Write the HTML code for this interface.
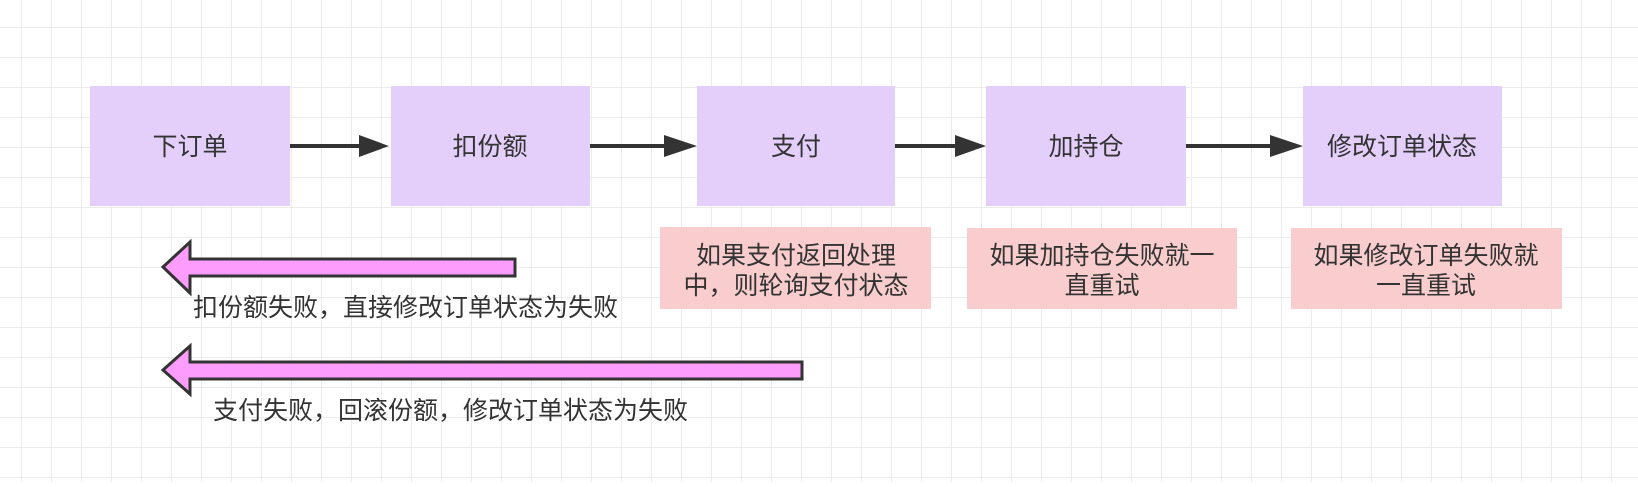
<!DOCTYPE html>
<html><head><meta charset="utf-8"><style>
html,body{margin:0;padding:0;background:#fff}
svg text{font-family:"Liberation Sans","Noto Sans CJK SC",sans-serif;fill:#333;font-size:25px}
</style></head><body>
<svg width="1638" height="482" viewBox="0 0 1638 482" xmlns="http://www.w3.org/2000/svg">
<defs>
<pattern id="g" x="21" y="27" width="30" height="30" patternUnits="userSpaceOnUse">
<path d="M0 0H30M0 0V30" stroke="#ececec" stroke-width="2" fill="none"/>
</pattern>
</defs>
<rect width="1638" height="482" fill="#fff"/>
<rect width="1638" height="482" fill="url(#g)"/>

<g fill="#e4cffb">
<rect x="90" y="86" width="200" height="120"/>
<rect x="391" y="86" width="199" height="120"/>
<rect x="697" y="86" width="198" height="120"/>
<rect x="986" y="86" width="200" height="120"/>
<rect x="1303" y="86" width="199" height="120"/>
</g>
<g text-anchor="middle">
<text x="190" y="155">下订单</text>
<text x="490" y="155">扣份额</text>
<text x="796" y="155">支付</text>
<text x="1086" y="155">加持仓</text>
<text x="1402" y="155">修改订单状态</text>
</g>

<g stroke="#333" stroke-width="4">
<line x1="290" y1="146" x2="362" y2="146"/>
<line x1="590" y1="146" x2="667" y2="146"/>
<line x1="895" y1="146" x2="958" y2="146"/>
<line x1="1186" y1="146" x2="1273" y2="146"/>
</g>
<g fill="#333">
<polygon points="359,135 389,146 359,157"/>
<polygon points="664,135 697,146 664,157"/>
<polygon points="955,135 986,146 955,157"/>
<polygon points="1270,135 1303,146 1270,157"/>
</g>

<g fill="#f9cdcd">
<rect x="660" y="227" width="271" height="82"/>
<rect x="967" y="228" width="270" height="81"/>
<rect x="1291" y="228" width="271" height="81"/>
</g>
<g text-anchor="middle" font-size="25">
<text x="796" y="264">如果支付返回处理</text>
<text x="796" y="294">中，则轮询支付状态</text>
<text x="1102" y="264">如果加持仓失败就一</text>
<text x="1102" y="294">直重试</text>
<text x="1426" y="264">如果修改订单失败就</text>
<text x="1426" y="294">一直重试</text>
</g>

<g fill="#fc9cfc" stroke="#333" stroke-width="3" stroke-linejoin="miter">
<polygon points="163,267 190,242 190,259 515,259 515,276 190,276 190,293"/>
<polygon points="163,370 190,346 190,362 802,362 802,379 190,379 190,394"/>
</g>
<text x="193" y="316">扣份额失败，直接修改订单状态为失败</text>
<text x="213" y="419">支付失败，回滚份额，修改订单状态为失败</text>
</svg>
</body></html>
